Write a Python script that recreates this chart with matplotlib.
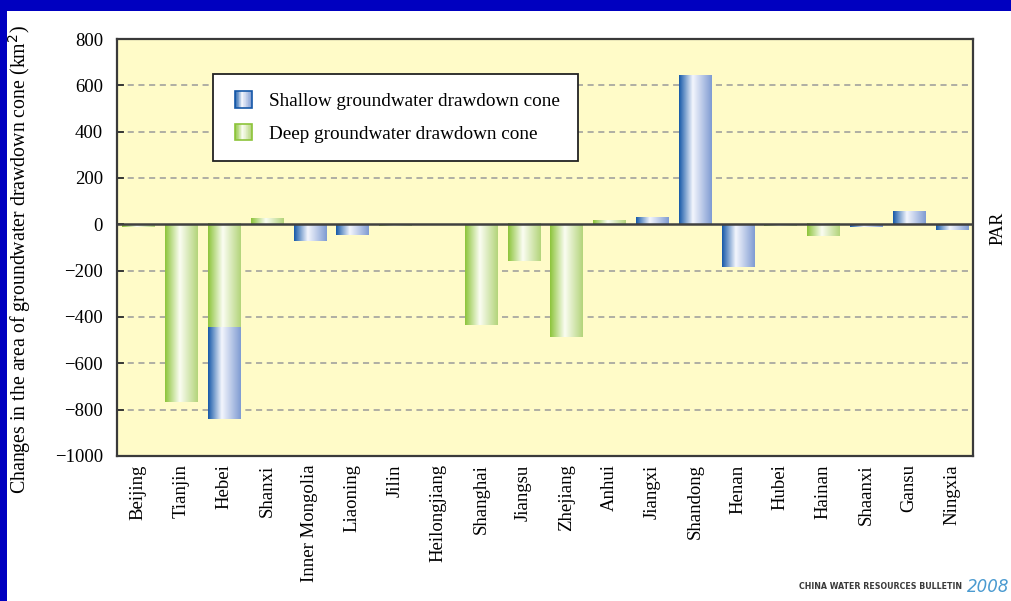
import numpy as np
import matplotlib
matplotlib.use("Agg")
import matplotlib.pyplot as plt
from matplotlib.colors import LinearSegmentedColormap
from matplotlib.patches import Rectangle
from matplotlib.legend_handler import HandlerBase

provinces = ["Beijing", "Tianjin", "Hebei", "Shanxi", "Inner Mongolia", "Liaoning", "Jilin",
             "Heilongjiang", "Shanghai", "Jiangsu", "Zhejiang", "Anhui", "Jiangxi", "Shandong",
             "Henan", "Hubei", "Hainan", "Shaanxi", "Gansu", "Ningxia"]
shallow = [0, 0, -395, 0, -72, -45, 0, 0, 0, 0, 0, 0, 28, 640, -185, 0, 0, -10, 55, -24]
deep = [-10, -765, -445, 22, 0, 0, -8, 0, -435, -160, -485, 15, 0, 0, 0, -8, -52, 0, 0, 0]
yticks = [800, 600, 400, 200, 0, -200, -400, -600, -800, -1000]

blue_cmap = LinearSegmentedColormap.from_list(
    "b", [(0, "#1558a8"), (0.42, "#f4f6fd"), (1, "#7f9bd2")])
green_cmap = LinearSegmentedColormap.from_list(
    "g", [(0, "#8cc43a"), (0.45, "#fbfdf2"), (1, "#b3d47a")])
grad = np.linspace(0, 1, 256).reshape(1, -1)

plt.rcParams["font.family"] = ["Liberation Serif", "DejaVu Serif"]

fig = plt.figure(figsize=(10.11, 6.01), dpi=100)
fig.patch.set_facecolor("white")
ax = fig.add_axes([0.1157, 0.2413, 0.9624 - 0.1157, 0.9351 - 0.2413])
ax.set_facecolor("#fffbc8")

x = np.arange(len(provinces))
deep_arr = np.array(deep, dtype=float)
shallow_arr = np.array(shallow, dtype=float)
# shallow stacked beyond deep when both have same sign
bottom_sh = np.where(np.sign(deep_arr) == np.sign(shallow_arr), deep_arr, 0.0)

bars_deep = ax.bar(x, deep_arr, width=0.75, color="none", edgecolor="none", zorder=2)
bars_sh = ax.bar(x, shallow_arr, width=0.75, bottom=bottom_sh, color="none",
                 edgecolor="none", zorder=2)

for bars, cmap in ((bars_deep, green_cmap), (bars_sh, blue_cmap)):
    for p in bars:
        h = p.get_height()
        if h == 0:
            continue
        x0, y0, w = p.get_x(), p.get_y(), p.get_width()
        ax.imshow(grad, cmap=cmap, extent=[x0, x0 + w, min(y0, y0 + h), max(y0, y0 + h)],
                  aspect="auto", zorder=2, interpolation="bilinear")

ax.set_xlim(-0.5, len(provinces) - 0.5)
ax.set_ylim(-1000, 800)
ax.set_yticks(yticks)
ax.set_yticklabels([("\u2212" + str(abs(v))) if v < 0 else str(v) for v in yticks], fontsize=13.5)
for v in yticks:
    if v not in (800, 0, -1000):
        ax.axhline(v, color="#9a9a9a", lw=1.1, ls=(0, (4, 3)), zorder=1)
ax.axhline(0, color="#404040", lw=1.8, zorder=3)

ax.set_xticks(x)
ax.set_xticklabels(provinces, rotation=90, fontsize=13.5)
ax.tick_params(axis="x", length=0, pad=6)
ax.tick_params(axis="y", direction="in", length=5, width=1.2, color="#222222", pad=10)
for s in ax.spines.values():
    s.set_color("#3a3a3a")
    s.set_linewidth(1.6)

ax.set_ylabel("Changes in the area of groundwater drawdown cone (km$^2$)", fontsize=14.3)
ax.yaxis.set_label_coords(-0.098, 0.47)


class GradHandler(HandlerBase):
    def __init__(self, cmap, edge):
        super().__init__()
        self.cmap = cmap
        self.edge = edge

    def create_artists(self, legend, orig_handle, xdescent, ydescent, width, height,
                       fontsize, trans):
        side = min(width, height) * 1.25
        x0 = -xdescent + (width - side) / 2 + 2
        y0 = -ydescent + (height - side) / 2
        arts = []
        n = 24
        for i in range(n):
            r = Rectangle((x0 + side * i / n, y0), side / n + 0.3, side,
                          facecolor=self.cmap((i + 0.5) / n), edgecolor="none",
                          transform=trans)
            arts.append(r)
        arts.append(Rectangle((x0, y0), side, side, facecolor="none",
                              edgecolor=self.edge, lw=1.2, transform=trans))
        return arts


h1 = Rectangle((0, 0), 1, 1)
h2 = Rectangle((0, 0), 1, 1)
leg = ax.legend([h1, h2], ["Shallow groundwater drawdown cone", "Deep groundwater drawdown cone"],
                handler_map={h1: GradHandler(blue_cmap, "#1558a8"),
                             h2: GradHandler(green_cmap, "#8cc43a")},
                loc="upper left", bbox_to_anchor=(0.112, 0.915), fontsize=13.8,
                frameon=True, fancybox=False, edgecolor="#222222", framealpha=1,
                borderpad=0.95, labelspacing=0.8, handlelength=1.0, handletextpad=1.0,
                borderaxespad=0)
leg.get_frame().set_linewidth(1.3)
leg.set_zorder(5)

fig.text(0.987, 0.62, "PAR", rotation=90, fontsize=13, ha="center", va="center")

# blue border strips
fig.patches.append(Rectangle((0, 1 - 11 / 601), 1, 11 / 601, transform=fig.transFigure,
                             facecolor="#0000c0", edgecolor="none", zorder=10))
fig.patches.append(Rectangle((0, 0), 7 / 1011, 1, transform=fig.transFigure,
                             facecolor="#0000c0", edgecolor="none", zorder=10))

fig.text(0.952, 0.016, "CHINA WATER RESOURCES BULLETIN", fontsize=6.3, ha="right",
         va="bottom", color="#3a3a3a", family="DejaVu Sans", weight="bold",
         stretch="condensed")
fig.text(0.998, 0.008, "2008", fontsize=12, ha="right", va="bottom", color="#4a9ad0",
         family="DejaVu Sans", style="italic")

fig.savefig("out.png", dpi=100, facecolor="white")
